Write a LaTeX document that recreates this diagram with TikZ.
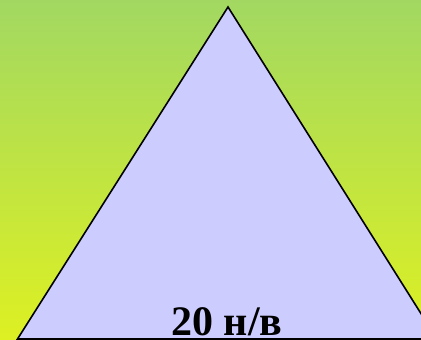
\documentclass[tikz,border=0pt]{standalone}
\usepackage{fontspec}
\setmainfont{Liberation Serif}
\definecolor{bgtop}{RGB}{162,216,98}
\definecolor{bgbot}{RGB}{221,240,34}
\definecolor{trifill}{RGB}{204,204,255}
\begin{document}
\begin{tikzpicture}[x=1pt,y=1pt]
\useasboundingbox (0,0) rectangle (421,340);
\clip (0,0) rectangle (421,340);
\shade[top color=bgtop, bottom color=bgbot] (0,0) rectangle (421,340);
\coordinate (apex) at (228,333);
\coordinate (bl) at (17.5,1);
\coordinate (br) at (437,1);
\draw[fill=trifill, line width=1.6pt, line join=miter] (apex) -- (br) -- (bl) -- cycle;
\node[anchor=base, inner sep=0pt, font=\bfseries\fontsize{42}{46}\selectfont] (lbl) at (227,4) {20 н/в};
\end{tikzpicture}
\end{document}
